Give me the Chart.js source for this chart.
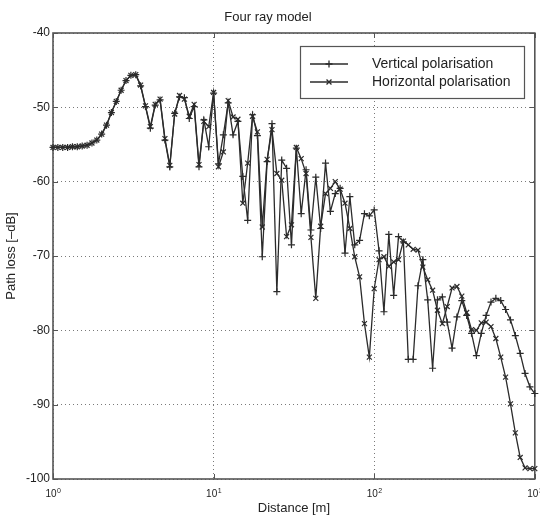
<!DOCTYPE html>
<html>
<head>
<meta charset="utf-8">
<script src="https://cdn.jsdelivr.net/npm/chart.js@4"></script>
<style>
  html, body { margin: 0; padding: 0; background: #fff; }
</style>
</head>
<body>
<canvas id="lossChart" width="540" height="516"></canvas>
<script>
const distance = [
  1, 1.072, 1.150, 1.233, 1.322, 1.417, 1.520, 1.630, 1.748, 1.874,
  2.009, 2.154, 2.310, 2.477, 2.656, 2.848, 3.054, 3.275, 3.511, 3.765,
  4.037, 4.329, 4.642, 4.977, 5.337, 5.722, 6.136, 6.579, 7.055, 7.565,
  8.111, 8.697, 9.326, 10, 10.72, 11.50, 12.33, 13.22, 14.17, 15.20,
  16.30, 17.48, 18.74, 20.09, 21.54, 23.10, 24.77, 26.56, 28.48, 30.54,
  32.75, 35.11, 37.65, 40.37, 43.29, 46.42, 49.77, 53.37, 57.22, 61.36,
  65.79, 70.55, 75.65, 81.11, 86.97, 93.26, 100, 107.2, 115.0, 123.3,
  132.2, 141.7, 152.0, 163.0, 174.8, 187.4, 200.9, 215.4, 231.0, 247.7,
  265.6, 284.8, 305.4, 327.5, 351.1, 376.5, 403.7, 432.9, 464.2, 497.7,
  533.7, 572.2, 613.6, 657.9, 705.5, 756.5, 811.1, 869.7, 932.6, 1000
];

const verticalLoss = [
  -55.4, -55.4, -55.4, -55.4, -55.3, -55.3, -55.2, -55.1, -54.8, -54.4,
  -53.6, -52.4, -50.7, -49.2, -47.7, -46.4, -45.7, -45.6, -47.1, -49.9,
  -52.8, -49.7, -49.0, -54.4, -58.0, -50.8, -48.6, -48.7, -51.5, -49.9,
  -58.0, -51.7, -55.3, -48.1, -57.6, -53.7, -49.4, -53.7, -51.9, -59.3,
  -65.2, -51.0, -53.8, -70.1, -57.3, -52.2, -74.8, -57.1, -58.2, -68.5,
  -55.5, -64.3, -58.4, -66.5, -59.4, -66.3, -57.5, -64.0, -61.6, -60.9,
  -69.6, -62.0, -68.5, -67.9, -64.3, -64.6, -63.8, -69.3, -77.5, -67.1,
  -75.3, -67.4, -68.1, -83.9, -83.9, -74.0, -70.5, -75.9, -85.1, -75.9,
  -75.5, -78.9, -82.4, -78.2, -76.0, -78.0, -80.4, -83.4, -80.4, -78.0,
  -76.2, -75.7, -76.0, -77.2, -78.6, -80.7, -83.1, -85.8, -87.6, -88.5
];

const horizontalLoss = [
  -55.4, -55.4, -55.4, -55.4, -55.3, -55.3, -55.2, -55.1, -54.8, -54.4,
  -53.6, -52.4, -50.7, -49.2, -47.7, -46.4, -45.7, -45.6, -47.0, -49.8,
  -52.6, -49.6, -48.9, -54.2, -57.8, -50.9, -48.4, -48.9, -51.2, -49.6,
  -57.7, -51.9, -52.6, -48.0, -58.0, -56.0, -49.1, -51.3, -51.6, -62.9,
  -57.5, -51.2, -53.3, -66.1, -57.0, -53.0, -58.9, -59.8, -67.4, -65.8,
  -55.4, -56.9, -58.9, -67.5, -75.7, -66.0, -61.6, -60.9, -60.0, -61.0,
  -62.9, -66.3, -70.1, -72.8, -79.1, -83.6, -74.4, -70.5, -70.1, -71.4,
  -70.8, -70.5, -68.0, -68.5, -69.1, -69.2, -71.5, -73.2, -74.6, -77.3,
  -79.1, -76.8, -74.3, -74.1, -75.4, -77.6, -79.9, -80.0, -79.0, -78.9,
  -79.5, -81.1, -83.6, -86.3, -89.9, -93.8, -97.1, -98.5, -98.6, -98.6
];

const xTicks = [1, 10, 100, 1000];
const xTickExponents = ['0', '1', '2', '3'];
const yTicks = [-100, -90, -80, -70, -60, -50, -40];
const seriesLabels = ['Vertical polarisation', 'Horizontal polarisation'];

const FONT = "'Liberation Sans', Arial, Helvetica, sans-serif";
const INK = '#222';
const LINE = '#2b2b2b';
const FRAME = '#555';
const GRID = '#7a7a7a';

Chart.defaults.font.family = FONT;
Chart.defaults.color = INK;

function toPoints(values) {
  return distance.map((d, i) => ({ x: d, y: values[i] }));
}

// frame round the plot plus the little inward ticks
const framePlugin = {
  id: 'frame',
  beforeDatasetsDraw(chart) {
    const { ctx, chartArea: a, scales } = chart;
    ctx.save();
    ctx.strokeStyle = FRAME;
    ctx.lineWidth = 1.6;
    ctx.strokeRect(a.left, a.top, a.right - a.left, a.bottom - a.top);
    ctx.lineWidth = 1;
    ctx.beginPath();
    xTicks.forEach(v => {
      const px = Math.round(scales.x.getPixelForValue(v)) + 0.5;
      ctx.moveTo(px, a.bottom); ctx.lineTo(px, a.bottom - 5);
      ctx.moveTo(px, a.top); ctx.lineTo(px, a.top + 5);
    });
    yTicks.forEach(v => {
      const py = Math.round(scales.y.getPixelForValue(v)) + 0.5;
      ctx.moveTo(a.left, py); ctx.lineTo(a.left + 5, py);
      ctx.moveTo(a.right, py); ctx.lineTo(a.right - 5, py);
    });
    ctx.stroke();
    ctx.restore();
  }
};

// "10" with a raised exponent under each decade
const decadeLabelPlugin = {
  id: 'decadeLabels',
  afterDraw(chart) {
    const { ctx, scales } = chart;
    const base = chart.chartArea.bottom + 18;
    ctx.save();
    ctx.fillStyle = INK;
    ctx.textBaseline = 'alphabetic';
    ctx.textAlign = 'left';
    xTicks.forEach((v, i) => {
      const px = scales.x.getPixelForValue(v);
      ctx.font = '10px ' + FONT;
      const w1 = ctx.measureText('10').width;
      ctx.font = '7px ' + FONT;
      const w2 = ctx.measureText(xTickExponents[i]).width;
      const start = px - (w1 + w2) / 2;
      ctx.font = '10px ' + FONT;
      ctx.fillText('10', start, base);
      ctx.font = '7px ' + FONT;
      ctx.fillText(xTickExponents[i], start + w1 + 0.5, base - 4);
    });
    ctx.restore();
  }
};

// boxed legend in the upper right of the plot
const boxLegendPlugin = {
  id: 'boxLegend',
  afterDraw(chart) {
    const { ctx } = chart;
    const box = { x: 300.5, y: 46.5, w: 224, h: 52 };
    ctx.save();
    ctx.fillStyle = '#fff';
    ctx.fillRect(box.x, box.y, box.w, box.h);
    ctx.strokeStyle = FRAME;
    ctx.lineWidth = 1.2;
    ctx.strokeRect(box.x, box.y, box.w, box.h);
    chart.data.datasets.forEach((ds, i) => {
      const y = 64 + i * 18;
      ctx.strokeStyle = ds.borderColor;
      ctx.lineWidth = ds.borderWidth;
      ctx.beginPath();
      ctx.moveTo(310, y);
      ctx.lineTo(348, y);
      ctx.stroke();
      ctx.fillStyle = ds.borderColor;
      Chart.helpers.drawPoint(ctx, {
        pointStyle: ds.pointStyle, radius: ds.pointRadius,
        borderWidth: ds.pointBorderWidth, rotation: 0
      }, 329, y);
      ctx.fillStyle = INK;
      ctx.font = '14px ' + FONT;
      ctx.textBaseline = 'middle';
      ctx.fillText(ds.label, 372, y);
    });
    ctx.restore();
  }
};

new Chart(document.getElementById('lossChart'), {
  type: 'line',
  data: {
    datasets: [
      {
        label: seriesLabels[0],
        data: toPoints(verticalLoss),
        borderColor: LINE,
        borderWidth: 1.3,
        pointStyle: 'cross',
        pointRadius: 3.5,
        pointBorderWidth: 1.2,
        pointBorderColor: LINE,
        tension: 0,
        fill: false,
        clip: false
      },
      {
        label: seriesLabels[1],
        data: toPoints(horizontalLoss),
        borderColor: LINE,
        borderWidth: 1.3,
        pointStyle: 'crossRot',
        pointRadius: 3.5,
        pointBorderWidth: 1.2,
        pointBorderColor: LINE,
        tension: 0,
        fill: false,
        clip: false
      }
    ]
  },
  options: {
    responsive: false,
    animation: false,
    devicePixelRatio: 1,
    layout: { padding: { right: 4 } },
    plugins: {
      legend: { display: false },
      tooltip: { enabled: false },
      title: {
        display: true,
        text: 'Four ray model',
        color: INK,
        font: { size: 13, weight: 'normal' },
        padding: { top: 10, bottom: 7.4 }
      }
    },
    scales: {
      x: {
        type: 'logarithmic',
        min: 1,
        max: 1000,
        afterBuildTicks: s => { s.ticks = xTicks.map(v => ({ value: v })); },
        afterFit: s => { s.height = 37; s.paddingLeft = 0; s.paddingRight = 0; },
        grid: { color: GRID, lineWidth: 1, drawTicks: false },
        border: { display: false, dash: [1, 3] },
        ticks: { display: false },
        title: {
          display: true,
          text: 'Distance [m]',
          color: INK,
          font: { size: 13 },
          padding: { top: 0, bottom: 0 }
        }
      },
      y: {
        min: -100,
        max: -40,
        afterBuildTicks: s => { s.ticks = yTicks.map(v => ({ value: v })); },
        afterFit: s => { s.width = 53; },
        grid: { color: GRID, lineWidth: 1, drawTicks: false },
        border: { display: false, dash: [1, 3] },
        ticks: { color: INK, font: { size: 12 }, padding: 3 },
        title: {
          display: true,
          text: 'Path loss [\u2013dB]',
          color: INK,
          font: { size: 13 },
          padding: { top: 4, bottom: 0 }
        }
      }
    }
  },
  plugins: [framePlugin, decadeLabelPlugin, boxLegendPlugin]
});
</script>
</body>
</html>
